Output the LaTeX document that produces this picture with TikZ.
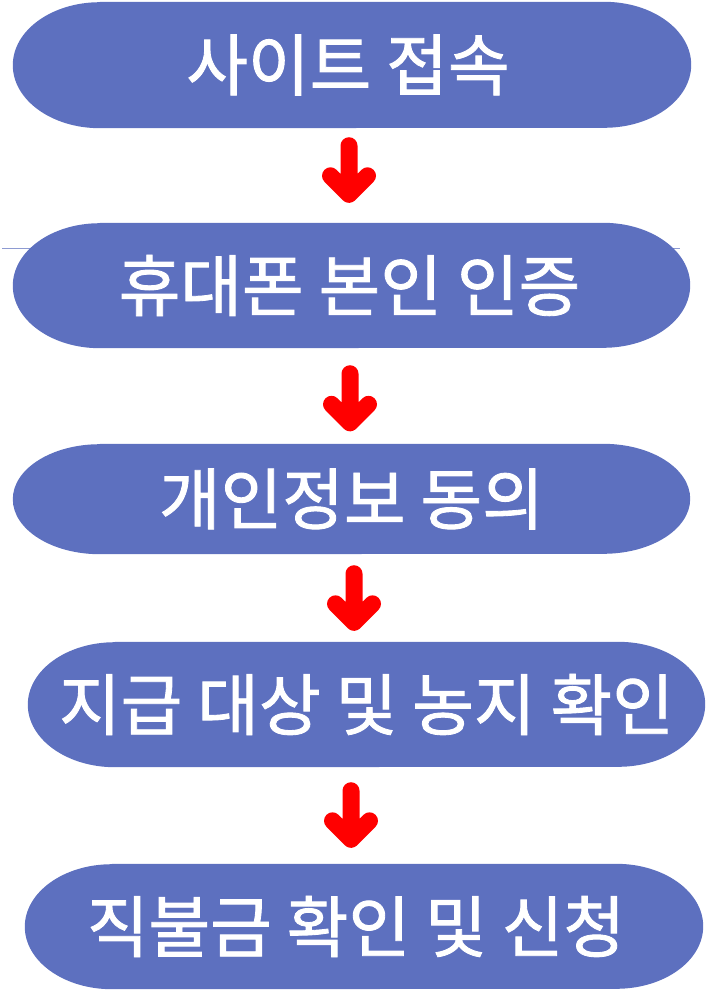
\documentclass[tikz,border=0pt]{standalone}
\usepackage{fontspec}
\newfontfamily\krfont[FakeBold=1.3]{Noto Sans CJK KR}
\usetikzlibrary{backgrounds}
\definecolor{boxblue}{RGB}{93,112,191}
\definecolor{arrred}{RGB}{255,0,0}
\newcommand\fillstadium[3]{%
  \fill[boxblue] ([xshift=#2]#1.north west) -- ([xshift=-#2]#1.north east)
    arc[start angle=90,end angle=-90,x radius=#2,y radius=#3]
    -- ([xshift=#2]#1.south west)
    arc[start angle=270,end angle=90,x radius=#2,y radius=#3] -- cycle;}
\begin{document}
\begin{tikzpicture}[x=1pt,y=-1pt,
  stepbox/.style={rectangle, inner sep=0pt, text=white,
    font=\krfont\fontsize{67}{67}\selectfont},
  redarr/.style={draw=arrred, line width=17pt, line cap=round, line join=round,
    to path={-- (\tikztotarget) -- ++(-18.5pt,18.5pt) -- (\tikztotarget) -- ++(18.5pt,18.5pt)}},
  artline/.style={draw=boxblue!70, line width=0.8pt}]
\useasboundingbox (0,0) rectangle (720,1007);
\node[stepbox, minimum width=678pt, minimum height=126pt] (b1) at (352,65) {사이트 접속\hspace*{8pt}};
\node[stepbox, minimum width=677pt, minimum height=125pt] (b2) at (351.5,285.5) {휴대폰 본인 인증\hspace*{4pt}};
\node[stepbox, minimum width=677pt, minimum height=110pt] (b3) at (351.5,499) {개인정보 동의};
\node[stepbox, minimum width=677pt, minimum height=125pt] (b4) at (366.5,704.5) {지급 대상 및 농지 확인};
\node[stepbox, minimum width=678pt, minimum height=125pt] (b5) at (364,926.5) {직불금 확인 및 신청\hspace*{16pt}};
\begin{scope}[on background layer]
  \draw[artline] (2,248) -- (680,248);
  \fillstadium{b1}{87pt}{63pt}
  \fillstadium{b2}{87pt}{62.5pt}
  \fillstadium{b3}{87pt}{55pt}
  \fillstadium{b4}{87pt}{62.5pt}
  \fillstadium{b5}{87pt}{62.5pt}
\end{scope}
\draw[redarr] ([shift={(-3pt,-17.5pt)}]b1.south) to ([shift={(-2.5pt,28.5pt)}]b2.north);
\draw[redarr] ([shift={(-1.5pt,-25.5pt)}]b2.south) to ([shift={(-1.5pt,21pt)}]b3.north);
\draw[redarr] ([shift={(2.5pt,-19.5pt)}]b3.south) to ([shift={(-12.5pt,19.5pt)}]b4.north);
\draw[redarr] ([shift={(-15.5pt,-23.5pt)}]b4.south) to ([shift={(-13pt,24.5pt)}]b5.north);
\end{tikzpicture}
\end{document}
